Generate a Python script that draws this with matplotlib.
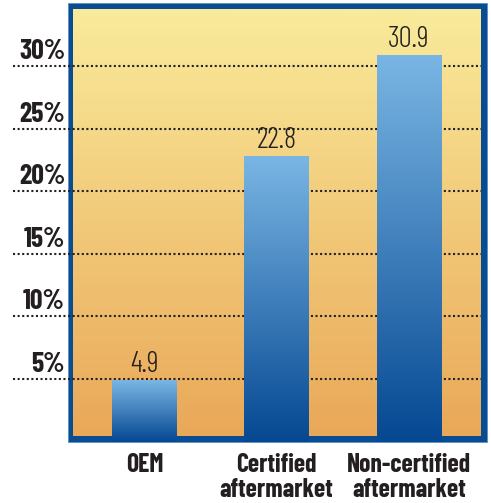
import numpy as np
import matplotlib
matplotlib.use("Agg")
import matplotlib.pyplot as plt
from matplotlib.patches import Rectangle

categories = ["OEM", "Certified\naftermarket", "Non-certified\naftermarket"]
values = [4.9, 22.8, 30.9]
value_labels = ["4.9", "22.8", "30.9"]
ticks = [5, 10, 15, 20, 25, 30]
tick_labels = ["5%", "10%", "15%", "20%", "25%", "30%"]

plt.rcParams["font.family"] = ["Barlow Condensed", "DejaVu Sans"]

W, H = 491, 503
fig = plt.figure(figsize=(W / 100, H / 100), dpi=100)
fig.patch.set_facecolor("white")

# axes = inner area of the frame, y=0 sits on the bottom edge of the frame
ppu = 12.52            # pixels per percent
y0_px = 441.6
ax = fig.add_axes([73 / W, (H - y0_px) / H, 408 / W, (y0_px - 9) / H])
ax.set_facecolor("none")
ymax = (y0_px - 9) / ppu
xmin, xmax = -0.541, 2.545
ax.axis("off")

# blue frame
fig.add_artist(Rectangle((68 / W, (H - 442) / H), (487 - 68) / W, (442 - 3) / H,
                         transform=fig.transFigure, facecolor="#0a4c92",
                         edgecolor="#5d8fc4", linewidth=0.6, zorder=-1))

# background gradient
top_bg = np.array([249, 235, 155]) / 255
bot_bg = np.array([233, 168, 88]) / 255
t = np.linspace(0, 1, 256)[:, None, None]
bg = top_bg * (1 - t) + bot_bg * t
ax.imshow(bg, extent=[xmin, xmax, (y0_px - 436) / ppu, ymax], aspect="auto",
          origin="upper", zorder=0, interpolation="bilinear")

# dotted gridlines + percent labels
for v, lab in zip(ticks, tick_labels):
    ax.plot([(13 - 144.5) / 132.25, xmax], [v, v], color="#222222", lw=1.5,
            linestyle=(0, (1, 1.2)), clip_on=False, zorder=1)
    ax.text((65 - 144.5) / 132.25, v + 7 / ppu, lab,
            ha="right", va="baseline", fontsize=20, fontweight=700,
            color="#231f20", clip_on=False)

# bars with vertical gradient
top_bar = np.array([122, 182, 228]) / 255
bot_bar = np.array([5, 72, 146]) / 255
bar_grad = top_bar * (1 - t) + bot_bar * t
bw = 0.49
for i, v in enumerate(values):
    ax.imshow(bar_grad, extent=[i - bw / 2, i + bw / 2, 0, v], aspect="auto",
              origin="upper", zorder=2, interpolation="bilinear")
    ax.text(i, v + 8 / ppu, value_labels[i], ha="center", va="baseline",
            fontsize=21, fontweight=300, color="#231f20", zorder=3)
ax.set_xlim(xmin, xmax)
ax.set_ylim(0, ymax)

# category labels
for i, c in enumerate(categories):
    x_px = 144.5 + i * 132.25
    for j, line in enumerate(c.split("\n")):
        fig.text(x_px / W, 1 - (472 + 25 * j) / H, line, ha="center",
                 va="baseline", fontsize=18.5, fontweight=700, color="#231f20")

fig.savefig("out.png", dpi=100)
